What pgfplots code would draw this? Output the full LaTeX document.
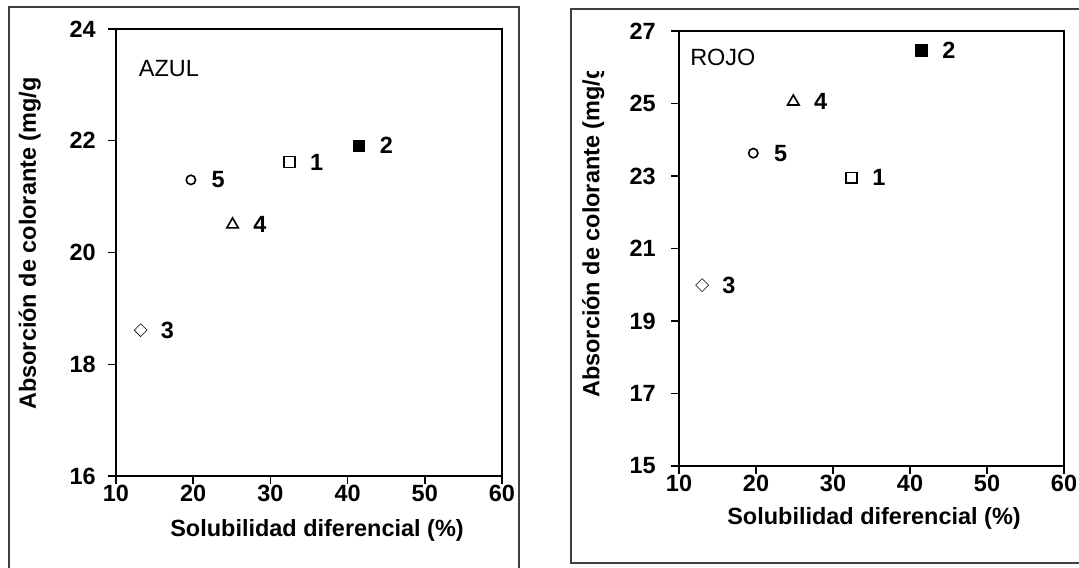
\documentclass[border=0pt]{standalone}
\usepackage{pgfplots}
\pgfplotsset{compat=1.18}
\usepackage{fontspec}
\setmainfont{Liberation Sans}
\newcommand\ff{\fontsize{17.6}{20}\selectfont}
\begin{document}
\ff
\begin{tikzpicture}
\useasboundingbox (0,0) rectangle (809.25pt,426pt);
\pgfplotsset{
  myax/.style={
    scale only axis, anchor=south west, clip=false,
    axis line style={line width=1.1pt, black},
    every tick/.style={line width=1.1pt, black},
    tick align=outside, major tick length=6pt,
    xtick pos=lower, ytick pos=left,
    xmin=10, xmax=60, xtick={10,20,...,60},
    xticklabels={}, yticklabels={},
  },
  lab/.style={nodes near coords={\ff\bfseries #1},
    nodes near coords style={anchor=west, inner sep=0pt, xshift=15pt, font=\ff\bfseries}},
  mk/.style={only marks, black, mark options={line width=1.2pt, solid, black}},
}
% frames
\draw[line width=1.6pt, black!75] (6.75pt,-2pt) -- (6.75pt,420.75pt) -- (389.25pt,420.75pt) -- (389.25pt,-2pt);
\draw[line width=1.6pt, black!75] (812pt,419.25pt) -- (428.25pt,419.25pt) -- (428.25pt,3.75pt) -- (812pt,3.75pt);

\begin{axis}[myax, at={(87pt,69pt)}, width=289.5pt, height=335.25pt,
  ymin=16, ymax=24, ytick={16,18,...,24}]
\addplot[mk, mark=square, mark size=4.1pt, lab=1] coordinates {(32.45,21.62)};
\addplot[mk, mark=square*, mark size=4.1pt, lab=2] coordinates {(41.5,21.91)};
\addplot[mk, mark=square, mark size=3.4pt, mark options={rotate=45}, lab=3] coordinates {(13.2,18.61)};
\addplot[mk, mark=triangle, mark size=5pt, lab=4] coordinates {(25.1,20.5)};
\addplot[mk, mark=o, mark size=3.5pt, lab=5] coordinates {(19.7,21.3)};
\pgfplotsinvokeforeach{10,20,30,40,50,60}{
  \node[anchor=base, inner sep=0pt, font=\ff\bfseries, yshift=-19pt] at (axis cs:#1,16) {#1};}
\pgfplotsinvokeforeach{16,18,20,22,24}{
  \node[anchor=east, inner sep=0pt, font=\ff\bfseries, xshift=-15pt] at (axis cs:10,#1) {#1};}
\end{axis}

\begin{axis}[myax, at={(509.25pt,76.5pt)}, width=288.75pt, height=326.25pt,
  ymin=15, ymax=27, ytick={15,17,...,27}]
\addplot[mk, mark=square, mark size=4.1pt, lab=1] coordinates {(32.4,22.95)};
\addplot[mk, mark=square*, mark size=4.1pt, lab=2] coordinates {(41.5,26.46)};
\addplot[mk, mark=square, mark size=3.4pt, mark options={rotate=45}, lab=3] coordinates {(13.0,19.99)};
\addplot[mk, mark=triangle, mark size=5pt, lab=4] coordinates {(24.85,25.05)};
\addplot[mk, mark=o, mark size=3.5pt, lab=5] coordinates {(19.65,23.63)};
\pgfplotsinvokeforeach{10,20,30,40,50,60}{
  \node[anchor=base, inner sep=0pt, font=\ff\bfseries, yshift=-19pt] at (axis cs:#1,15) {#1};}
\pgfplotsinvokeforeach{15,17,19,21,23,25,27}{
  \node[anchor=east, inner sep=0pt, font=\ff\bfseries, xshift=-17.25pt] at (axis cs:10,#1) {#1};}
\end{axis}

% panel labels
\node[anchor=base west, inner sep=0pt, font=\ff] at (104pt,368.25pt) {AZUL};
\node[anchor=base west, inner sep=0pt, font=\ff] at (517.5pt,376.5pt) {ROJO};
% x titles
\node[anchor=base, inner sep=0pt, font=\ff\bfseries] at (237.75pt,23.5pt) {Solubilidad diferencial (\%)};
\node[anchor=base, inner sep=0pt, font=\ff\bfseries] at (655.5pt,32.5pt) {Solubilidad diferencial (\%)};
% y titles (clipped at top as in the original)
\begin{scope}
\clip (0pt,0pt) rectangle (60pt,367.5pt);
\node[rotate=90, anchor=base west, inner sep=0pt, font=\ff\bfseries] at (27pt,118.5pt) {Absorción de colorante (mg/g)};
\end{scope}
\begin{scope}
\clip (430pt,0pt) rectangle (480pt,372pt);
\node[rotate=90, anchor=base west, inner sep=0pt, font=\ff\bfseries] at (449.5pt,127.5pt) {Absorción de colorante (mg/g)};
\end{scope}
\end{tikzpicture}
\end{document}
